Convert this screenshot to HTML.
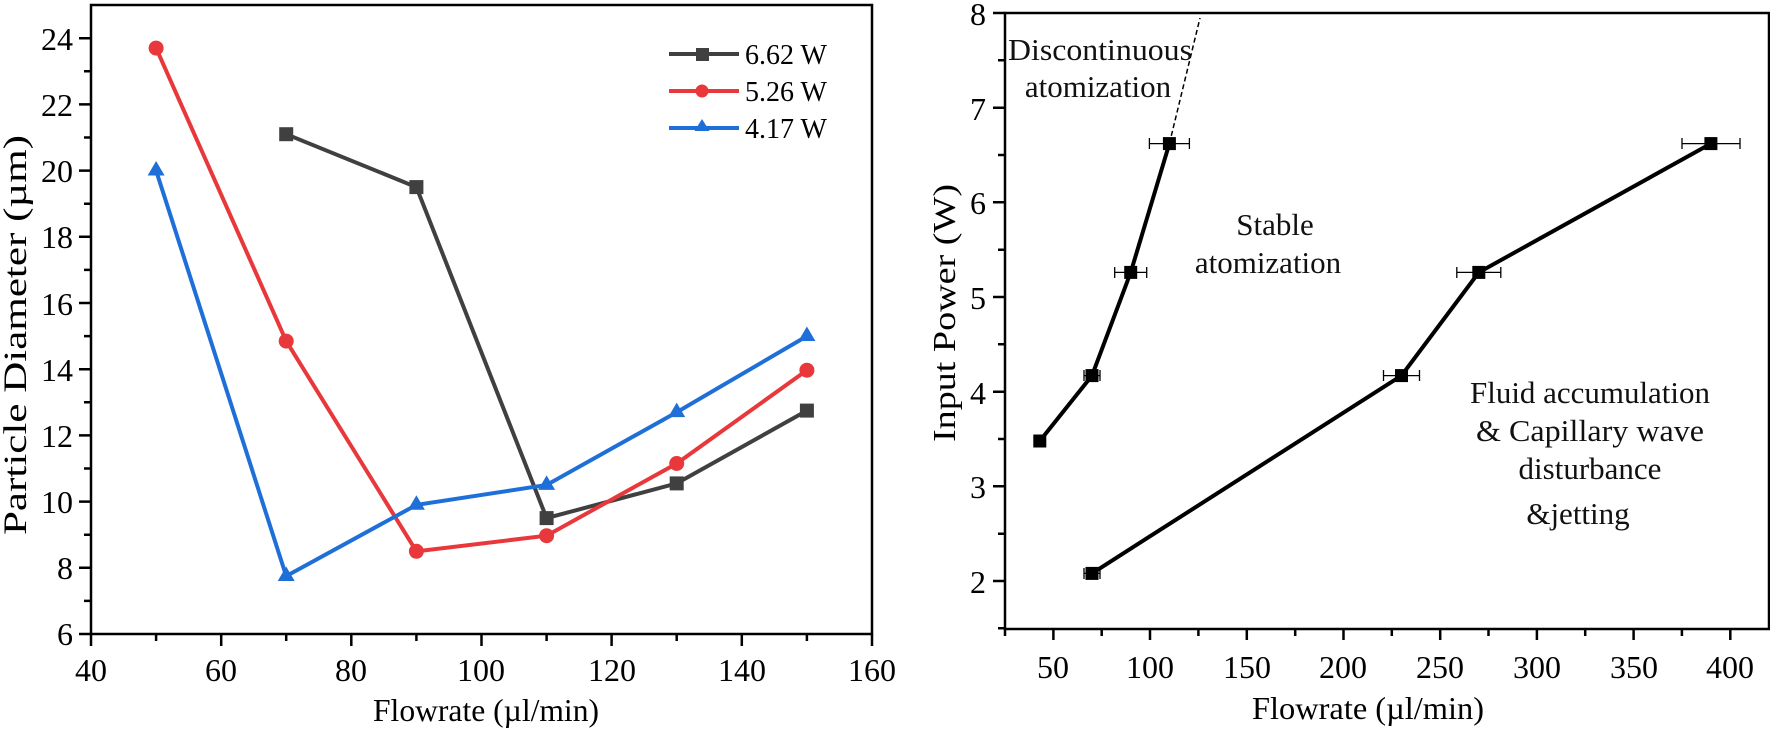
<!DOCTYPE html>
<html><head><meta charset="utf-8"><style>
html,body{margin:0;padding:0;background:#fff;}
svg{display:block;}
svg text{font-family:"Liberation Serif","DejaVu Serif",serif;}
</style></head><body>
<svg width="1770" height="732" viewBox="0 0 1770 732" font-family="Liberation Serif, DejaVu Serif, serif">
<!-- LEFT CHART -->
<g stroke="#000" stroke-width="2.5" fill="none">
<rect x="91" y="5" width="781" height="629"/>
<path d="M91 634h-12M91 567.8h-12M91 501.6h-12M91 435.4h-12M91 369.2h-12M91 303h-12M91 236.8h-12M91 170.6h-12M91 104.4h-12M91 38.2h-12"/>
<path d="M91 600.9h-7M91 534.7h-7M91 468.5h-7M91 402.3h-7M91 336.1h-7M91 269.9h-7M91 203.7h-7M91 137.5h-7M91 71.3h-7"/>
<path d="M91 634v12M221.2 634v12M351.3 634v12M481.5 634v12M611.6 634v12M741.8 634v12M872 634v12"/>
<path d="M156.1 634v7M286.2 634v7M416.4 634v7M546.6 634v7M676.7 634v7M806.9 634v7"/>
</g>
<g font-size="32" text-anchor="end">
<text x="73" y="645">6</text><text x="73" y="579">8</text><text x="73" y="513">10</text><text x="73" y="447">12</text><text x="73" y="381">14</text><text x="73" y="315">16</text><text x="73" y="248">18</text><text x="73" y="182">20</text><text x="73" y="116">22</text><text x="73" y="50">24</text>
</g>
<g font-size="32" text-anchor="middle">
<text x="91" y="681">40</text><text x="221" y="681">60</text><text x="351" y="681">80</text><text x="481" y="681">100</text><text x="612" y="681">120</text><text x="742" y="681">140</text><text x="872" y="681">160</text>
<text x="486" y="721" textLength="226" lengthAdjust="spacingAndGlyphs">Flowrate (µl/min)</text>
<text transform="translate(26,335) rotate(-90)" font-size="33" textLength="400" lengthAdjust="spacingAndGlyphs">Particle Diameter (µm)</text>
</g>
<polyline fill="none" stroke="#404040" stroke-width="4" points="286.2,134.2 416.4,187.1 546.6,518.1 676.7,483.4 806.9,410.6"/>
<g fill="#404040"><rect x="279.2" y="127.2" width="14" height="14"/><rect x="409.4" y="180.1" width="14" height="14"/><rect x="539.6" y="511.1" width="14" height="14"/><rect x="669.7" y="476.4" width="14" height="14"/><rect x="799.9" y="403.6" width="14" height="14"/></g>
<polyline fill="none" stroke="#e8383b" stroke-width="4" points="156.1,48.1 286.2,341.1 416.4,551.3 546.6,535.7 676.7,463.5 806.9,370.2"/>
<g fill="#e8383b"><circle cx="156.1" cy="48.1" r="7.5"/><circle cx="286.2" cy="341.1" r="7.5"/><circle cx="416.4" cy="551.3" r="7.5"/><circle cx="546.6" cy="535.7" r="7.5"/><circle cx="676.7" cy="463.5" r="7.5"/><circle cx="806.9" cy="370.2" r="7.5"/></g>
<polyline fill="none" stroke="#1f6fd8" stroke-width="4" points="156.1,170.6 286.2,576.1 416.4,504.9 546.6,485 676.7,412.2 806.9,336.1"/>
<g fill="#1f6fd8">
<path d="M156.1 161l8.5 14.5h-17z"/><path d="M286.2 566.5l8.5 14.5h-17z"/><path d="M416.4 495.3l8.5 14.5h-17z"/><path d="M546.6 475.4l8.5 14.5h-17z"/><path d="M676.7 402.6l8.5 14.5h-17z"/><path d="M806.9 326.5l8.5 14.5h-17z"/>
</g>
<path d="M669 54h70" stroke="#404040" stroke-width="4"/><rect x="696" y="48" width="13" height="13" fill="#404040"/>
<path d="M669 91h70" stroke="#e8383b" stroke-width="4"/><circle cx="702" cy="91" r="6.5" fill="#e8383b"/>
<path d="M669 128h70" stroke="#1f6fd8" stroke-width="4"/><path d="M702 119l7.5 12h-15z" fill="#1f6fd8"/>
<g font-size="28"><text x="745" y="64">6.62 W</text><text x="745" y="101">5.26 W</text><text x="745" y="138">4.17 W</text></g>

<!-- RIGHT CHART -->
<g stroke="#000" stroke-width="2.5" fill="none">
<rect x="1005" y="13" width="764" height="616"/>
<path d="M1005 581h-12M1005 486.3h-12M1005 391.7h-12M1005 297h-12M1005 202.3h-12M1005 107.7h-12M1005 13h-12"/>
<path d="M1005 628.3h-7M1005 533.7h-7M1005 439h-7M1005 344.3h-7M1005 249.7h-7M1005 155h-7M1005 60.3h-7"/>
<path d="M1053.4 629v11M1150 629v11M1246.8 629v11M1343.5 629v11M1440.2 629v11M1536.9 629v11M1633.6 629v11M1730.3 629v11"/>
<path d="M1005 629v7M1101.7 629v7M1198.4 629v7M1295.2 629v7M1391.8 629v7M1488.5 629v7M1585.2 629v7M1681.9 629v7"/>
</g>
<g font-size="32" text-anchor="end">
<text x="986" y="593">2</text><text x="986" y="498">3</text><text x="986" y="404">4</text><text x="986" y="309">5</text><text x="986" y="214">6</text><text x="986" y="120">7</text><text x="986" y="25">8</text>
</g>
<g font-size="32" text-anchor="middle">
<text x="1053" y="678">50</text><text x="1150" y="678">100</text><text x="1247" y="678">150</text><text x="1343" y="678">200</text><text x="1440" y="678">250</text><text x="1537" y="678">300</text><text x="1634" y="678">350</text><text x="1730" y="678">400</text>
<text x="1368" y="719" textLength="232" lengthAdjust="spacingAndGlyphs">Flowrate (µl/min)</text>
<text transform="translate(955,313) rotate(-90)" textLength="258" lengthAdjust="spacingAndGlyphs">Input Power (W)</text>
</g>
<path d="M1169.4 143.6L1200 18" stroke="#000" stroke-width="1.5" stroke-dasharray="5,3" fill="none"/>
<polyline fill="none" stroke="#000" stroke-width="4" points="1039.8,441 1092,375.6 1130.7,272.4 1169.4,143.6"/>
<polyline fill="none" stroke="#000" stroke-width="4" points="1092,573.4 1401.5,375.6 1478.8,272.4 1710.9,143.6"/>
<g stroke="#000" stroke-width="1.3" fill="none">
<path d="M1149.4 143.6h40M1149.4 138v11M1189.4 138v11"/>
<path d="M1114.7 272.4h32M1114.7 267v11M1146.7 267v11"/>
<path d="M1084 375.6h16M1084 370v11M1100 370v11"/>
<path d="M1084 573.4h16M1084 568v11M1100 568v11"/>
<path d="M1383.5 375.6h36M1383.5 370v11M1419.5 370v11"/>
<path d="M1456.8 272.4h44M1456.8 267v11M1500.8 267v11"/>
<path d="M1682 143.6h58M1682 138v11M1740 138v11"/>
</g>
<g fill="#000">
<rect x="1033.3" y="434.5" width="13" height="13"/><rect x="1085.5" y="369.1" width="13" height="13"/><rect x="1124.2" y="265.9" width="13" height="13"/><rect x="1162.9" y="137.1" width="13" height="13"/>
<rect x="1085.5" y="566.9" width="13" height="13"/><rect x="1395" y="369.1" width="13" height="13"/><rect x="1472.3" y="265.9" width="13" height="13"/><rect x="1704.4" y="137.1" width="13" height="13"/>
</g>
<g font-size="31" text-anchor="middle" fill="#111">
<text x="1100" y="60" textLength="184" lengthAdjust="spacingAndGlyphs">Discontinuous</text>
<text x="1098" y="97">atomization</text>
<text x="1275" y="235">Stable</text>
<text x="1268" y="273">atomization</text>
<text x="1590" y="403" textLength="240" lengthAdjust="spacingAndGlyphs">Fluid accumulation</text>
<text x="1590" y="441" textLength="228" lengthAdjust="spacingAndGlyphs">&amp; Capillary wave</text>
<text x="1590" y="479">disturbance</text>
<text x="1578" y="524">&amp;jetting</text>
</g>
</svg>
</body></html>
